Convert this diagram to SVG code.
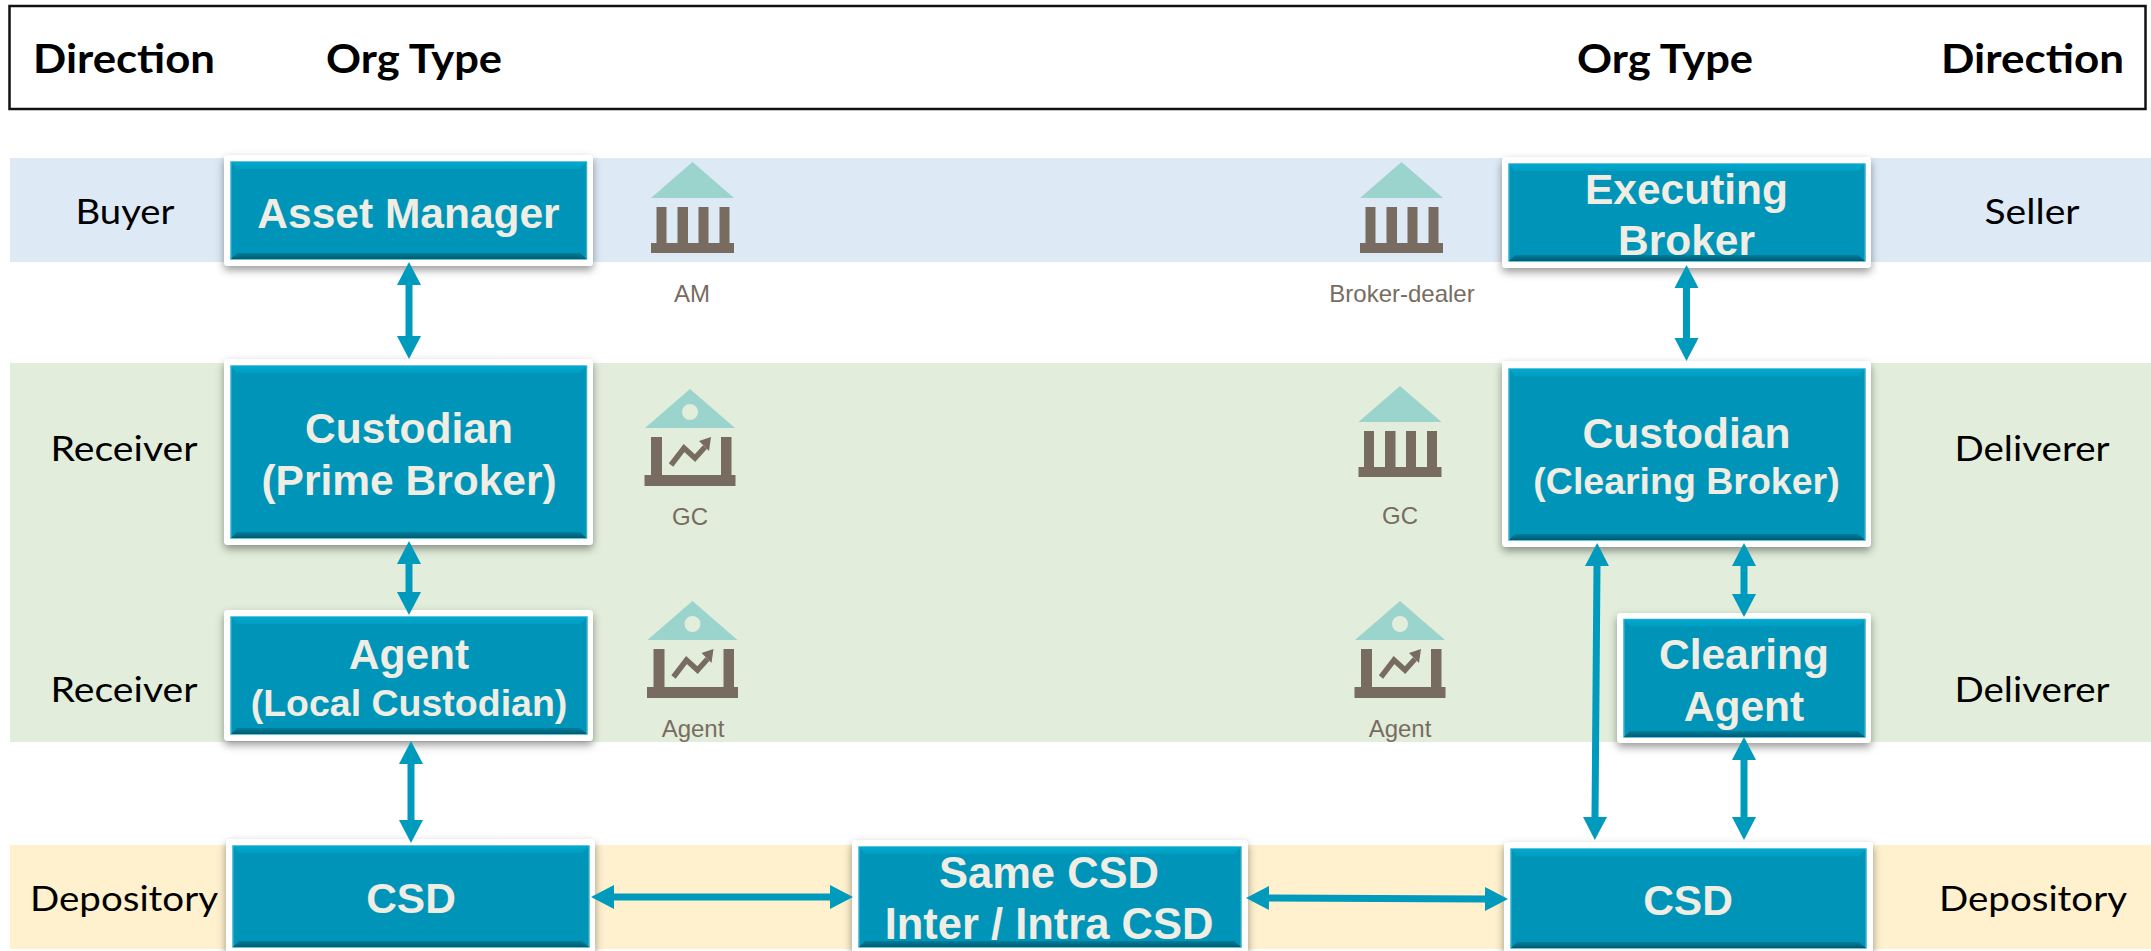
<svg xmlns="http://www.w3.org/2000/svg" xmlns:xlink="http://www.w3.org/1999/xlink" width="2151" height="951" viewBox="0 0 2151 951">
<style>
.hd{font-family:"Lato","Carlito","Liberation Sans",sans-serif;font-weight:700;font-size:41px;fill:#000}
.sd{font-family:"Lato","Carlito","Liberation Sans",sans-serif;font-size:35px;fill:#000;text-anchor:middle}
.nt{font-family:"Liberation Sans",Arial,sans-serif;font-weight:700;font-size:42.5px;fill:#EFEDE4;text-anchor:middle}
.nm{font-size:37.5px}
.nc{font-size:42.5px}
.ns{font-size:43.5px}
.ic{font-family:"Liberation Sans",Arial,sans-serif;font-size:24px;fill:#786C61;text-anchor:middle}
.outer{fill:#fff;filter:url(#sh)}
.inner{fill:#0095B8;stroke:#35AFCB;stroke-width:1.5}
.bt{fill:url(#gt)}.bb{fill:url(#gb)}
.roof{fill:#9AD4CC}.brn{fill:#786C61}
.cn{stroke:#009ABD;stroke-width:7;fill:none;marker-start:url(#ah);marker-end:url(#ah)}
</style>
<defs>
<linearGradient id="gt" x1="0" y1="0" x2="0" y2="1"><stop offset="0" stop-color="#00A9CE"/><stop offset="1" stop-color="#009EC2"/></linearGradient>
<linearGradient id="gb" x1="0" y1="0" x2="0" y2="1"><stop offset="0" stop-color="#007F9C"/><stop offset="1" stop-color="#005A70"/></linearGradient>
<filter id="sh" x="-10%" y="-15%" width="120%" height="130%"><feDropShadow dx="0" dy="4" stdDeviation="4" flood-color="#000" flood-opacity="0.4"/></filter>
<marker id="ah" markerUnits="userSpaceOnUse" markerWidth="24" markerHeight="25" refX="1" refY="12.5" orient="auto-start-reverse"><path d="M0,0.5 L23,12.5 L0,24.5 Z" fill="#009ABD"/></marker>
<g id="bank"><path class="roof" d="M0,0 L41.5,36 L-41.5,36 Z"/><path class="brn" d="M-41.5,81 H41.5 V91 H-41.5 Z M-36,45 H-26 V81 H-36 Z M-15,45 H-4.5 V81 H-15 Z M6,45 H16 V81 H6 Z M27,45 H37 V81 H27 Z"/></g>
<g id="chartbank"><path class="roof" fill-rule="evenodd" d="M0,0 L45,39 L-45,39 Z M8,23 A8,8 0 1 0 -8,23 A8,8 0 1 0 8,23 Z"/><path class="brn" d="M-45.5,86 H45.5 V97 H-45.5 Z M-39,48 H-28 V86 H-39 Z M31,48 H41.5 V86 H31 Z"/><path fill="none" stroke="#786C61" stroke-width="5.5" d="M-19,76 L-6,59 L5,69 L15,58"/><path class="brn" d="M21,48 L9,52 L19,62 Z"/></g>
</defs>
<rect width="2151" height="951" fill="#fff"/>
<g id="bands">
<rect x="10" y="158" width="2141" height="104" fill="#DDE9F5"/>
<rect x="10" y="363" width="2141" height="379" fill="#E2EEDB"/>
<rect x="10" y="845" width="2141" height="104" fill="#FFF1CE"/>
</g>
<g id="header">
<rect x="9.5" y="6" width="2136" height="103" fill="#fff" stroke="#111" stroke-width="2.5"/>
<text class="hd" x="33" y="73" textLength="182" lengthAdjust="spacingAndGlyphs">Direction</text>
<text class="hd" x="326" y="73" textLength="176" lengthAdjust="spacingAndGlyphs">Org Type</text>
<text class="hd" x="1577" y="73" textLength="176" lengthAdjust="spacingAndGlyphs">Org Type</text>
<text class="hd" x="1941" y="73" textLength="183" lengthAdjust="spacingAndGlyphs">Direction</text>
</g>
<g id="side-labels">
<text class="sd" x="125" y="224" textLength="99" lengthAdjust="spacingAndGlyphs">Buyer</text>
<text class="sd" x="2032" y="224" textLength="95" lengthAdjust="spacingAndGlyphs">Seller</text>
<text class="sd" x="124" y="461" textLength="147" lengthAdjust="spacingAndGlyphs">Receiver</text>
<text class="sd" x="2032" y="461" textLength="155" lengthAdjust="spacingAndGlyphs">Deliverer</text>
<text class="sd" x="124" y="702" textLength="147" lengthAdjust="spacingAndGlyphs">Receiver</text>
<text class="sd" x="2032" y="702" textLength="155" lengthAdjust="spacingAndGlyphs">Deliverer</text>
<text class="sd" x="124" y="911" textLength="188" lengthAdjust="spacingAndGlyphs">Depository</text>
<text class="sd" x="2033" y="911" textLength="188" lengthAdjust="spacingAndGlyphs">Depository</text>
</g>
<g id="icon-am"><use href="#bank" x="692.5" y="162"/><text class="ic" x="692" y="302">AM</text></g>
<g id="icon-broker"><use href="#bank" x="1401.5" y="162"/><text class="ic" x="1402" y="302">Broker-dealer</text></g>
<g id="icon-gc-left"><use href="#chartbank" x="690" y="389"/><text class="ic" x="690" y="525">GC</text></g>
<g id="icon-gc-right"><use href="#bank" x="1400" y="386"/><text class="ic" x="1400" y="524">GC</text></g>
<g id="icon-agent-left"><use href="#chartbank" x="692.5" y="601"/><text class="ic" x="693" y="737">Agent</text></g>
<g id="icon-agent-right"><use href="#chartbank" x="1400" y="601"/><text class="ic" x="1400" y="737">Agent</text></g>

<g id="node-asset-manager">
<rect class="outer" x="224" y="155" width="369" height="111" rx="4"/><rect class="inner" x="231" y="162" width="355.5" height="97"/>
<path class="bt" d="M231,162 H586.5 L580,169 H237 Z"/><path class="bb" d="M231,259 H586.5 L580,253 H237 Z"/>
<text class="nt" x="408.5" y="228">Asset Manager</text></g>
<g id="node-custodian-prime">
<rect class="outer" x="224" y="359" width="369" height="186" rx="4"/><rect class="inner" x="231" y="366" width="355.5" height="172"/>
<path class="bt" d="M231,366 H586.5 L580,373 H237 Z"/><path class="bb" d="M231,538 H586.5 L580,532 H237 Z"/>
<text class="nt" x="409" y="443">Custodian</text><text class="nt" x="409" y="495">(Prime Broker)</text></g>
<g id="node-agent">
<rect class="outer" x="224" y="610" width="369" height="131" rx="4"/><rect class="inner" x="231" y="617" width="356" height="117"/>
<path class="bt" d="M231,617 H587 L580,624 H237 Z"/><path class="bb" d="M231,734 H587 L580,728 H237 Z"/>
<text class="nt nc" x="409" y="669">Agent</text><text class="nt nm" x="409" y="716">(Local Custodian)</text></g>
<g id="node-csd-left">
<rect class="outer" x="226" y="839" width="369" height="116" rx="4"/><rect class="inner" x="233" y="846" width="356" height="101"/>
<path class="bt" d="M233,846 H589 L582,853 H239 Z"/><path class="bb" d="M233,947 H589 L582,941 H239 Z"/>
<text class="nt nc" x="411" y="913">CSD</text></g>
<g id="node-same-csd">
<rect class="outer" x="852" y="840" width="396" height="115" rx="4"/><rect class="inner" x="859" y="847" width="382" height="100"/>
<path class="bt" d="M859,847 H1241 L1234,854 H865 Z"/><path class="bb" d="M859,947 H1241 L1234,941 H865 Z"/>
<text class="nt ns" x="1049" y="888">Same CSD</text><text class="nt ns" x="1049" y="939">Inter / Intra CSD</text></g>
<g id="node-executing-broker">
<rect class="outer" x="1502" y="157" width="369" height="111" rx="4"/><rect class="inner" x="1509" y="164" width="356" height="97"/>
<path class="bt" d="M1509,164 H1865 L1858,171 H1515 Z"/><path class="bb" d="M1509,261 H1865 L1858,255 H1515 Z"/>
<text class="nt" x="1686.5" y="204">Executing</text><text class="nt" x="1686.5" y="255">Broker</text></g>
<g id="node-custodian-clearing">
<rect class="outer" x="1502" y="361" width="369" height="186" rx="4"/><rect class="inner" x="1509" y="369" width="356" height="171"/>
<path class="bt" d="M1509,369 H1865 L1858,376 H1515 Z"/><path class="bb" d="M1509,540 H1865 L1858,534 H1515 Z"/>
<text class="nt" x="1686.5" y="448">Custodian</text><text class="nt nm" x="1686.5" y="494">(Clearing Broker)</text></g>
<g id="node-clearing-agent">
<rect class="outer" x="1617" y="613" width="254" height="130" rx="4"/><rect class="inner" x="1624" y="619.5" width="241" height="117.5"/>
<path class="bt" d="M1624,619.5 H1865 L1858,626.5 H1630 Z"/><path class="bb" d="M1624,737 H1865 L1858,731 H1630 Z"/>
<text class="nt" x="1744" y="669">Clearing</text><text class="nt" x="1744" y="721">Agent</text></g>
<g id="node-csd-right">
<rect class="outer" x="1504" y="842" width="369" height="113" rx="4"/><rect class="inner" x="1511" y="849" width="355" height="99"/>
<path class="bt" d="M1511,849 H1866 L1859,856 H1517 Z"/><path class="bb" d="M1511,948 H1866 L1859,942 H1517 Z"/>
<text class="nt nc" x="1688" y="915">CSD</text></g>

<g id="connectors">
<line class="cn" x1="409" y1="284" x2="409" y2="337"/>
<line class="cn" x1="409" y1="563" x2="409" y2="593"/>
<line class="cn" x1="411" y1="763" x2="411" y2="821"/>
<line class="cn" x1="613" y1="897" x2="831" y2="897"/>
<line class="cn" x1="1268" y1="898" x2="1486" y2="899"/>
<line class="cn" x1="1686.5" y1="287" x2="1686.5" y2="339"/>
<line class="cn" x1="1597" y1="565" x2="1595" y2="818"/>
<line class="cn" x1="1744" y1="565" x2="1744" y2="595"/>
<line class="cn" x1="1744" y1="759" x2="1744" y2="818"/>
</g>
</svg>
